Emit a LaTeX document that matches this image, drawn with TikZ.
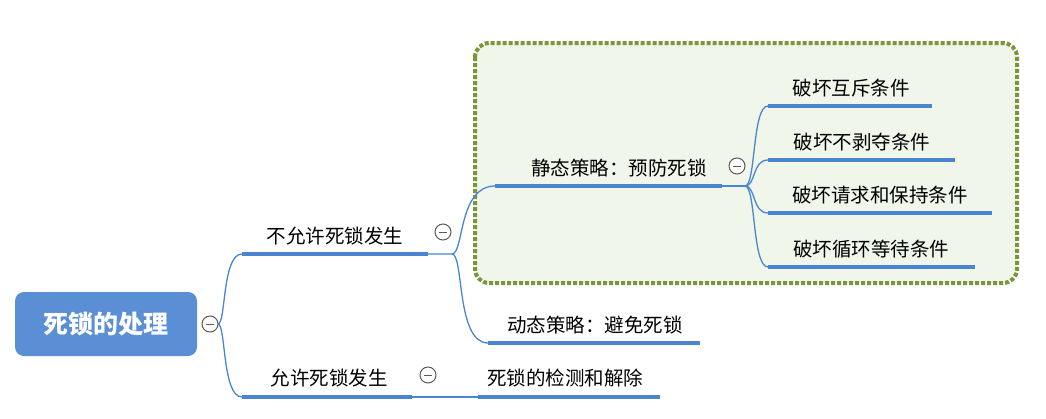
\documentclass[tikz,border=0pt]{standalone}
\usepackage{fontspec}
\setmainfont{Noto Sans CJK SC}
\begin{document}
\begin{tikzpicture}[x=1pt,y=-1pt,
  ul/.style={draw=lb,line width=3.5pt},
  cn/.style={draw=lb,line width=1.3pt},
  txt/.style={font=\fontsize{19.5}{22}\selectfont,inner sep=0pt},
  tog/.style={circle,draw=gray!70!black,fill=white,line width=1pt,minimum size=16pt,inner sep=0pt,
    path picture={\draw[gray!70!black,line width=1pt] ([xshift=-4pt]path picture bounding box.center) -- ([xshift=4pt]path picture bounding box.center);}}]
\definecolor{lb}{HTML}{4A86CF}
\definecolor{rootb}{HTML}{5B8FD5}
\definecolor{gb}{HTML}{F1F6EA}
\definecolor{gd}{HTML}{7A963A}
\useasboundingbox (0,0) rectangle (1046,418);
\draw[gd,fill=gb,line width=4pt,dotted,rounded corners=14pt] (475,43) rectangle (1017,283);
\node[fill=rootb,rounded corners=9pt,minimum width=182pt,minimum height=64pt,text=white,font=\fontsize{25}{27}\selectfont\bfseries] (root) at (106,324) {死锁的处理};
% level 1
\coordinate (r0) at (218,324);
\coordinate (a1) at (242,254); \coordinate (a2) at (428,254);
\coordinate (b1) at (242,397); \coordinate (b2) at (412,397);
\draw[cn] (r0) .. controls (226,324) and (222,254) .. (a1);
\draw[cn] (r0) .. controls (226,324) and (222,397) .. (b1);
\draw[ul] (a1) -- (a2); \draw[ul] (b1) -- (b2);
\node[txt] (n1) at (335,236) {不允许死锁发生};
\node[txt] (n2) at (329,378) {允许死锁发生};
% level 2
\coordinate (s0) at (452,254);
\coordinate (c1) at (495,186); \coordinate (c2) at (722,186);
\coordinate (d1) at (488,343); \coordinate (d2) at (700,343);
\draw[cn] (a2) -- (s0) .. controls (464,254) and (458,186) .. (c1);
\draw[cn] (s0) .. controls (464,254) and (456,343) .. (d1);
\draw[ul] (c1) -- (c2); \draw[ul] (d1) -- (d2);
\node[txt] (n3) at (619,168) {静态策略：预防死锁};
\node[txt] (n4) at (595,325) {动态策略：避免死锁};
\coordinate (e1) at (478,397); \coordinate (e2) at (660,397);
\draw[cn] (b2) -- (e1); \draw[ul] (e1) -- (e2);
\node[txt] (n5) at (565,378) {死锁的检测和解除};
% level 3
\coordinate (t0) at (745,186);
\foreach \y/\xe/\xc/\t [count=\i] in {106/932/851/破坏互斥条件,160/955/862/破坏不剥夺条件,213/992/880/破坏请求和保持条件,267/975/871/破坏循环等待条件}{
  \coordinate (f\i) at (768,\y); \coordinate (g\i) at (\xe,\y);
  \draw[cn] (t0) .. controls (756,186) and (752,\y) .. (f\i);
  \draw[ul] (f\i) -- (g\i);
  \node[txt] (m\i) at (\xc,\y-18) {\t};
}
\draw[cn] (c2) -- (t0);
% toggles
\node[tog] (k0) at (210,324) {};
\node[tog] (k1) at (443,232) {};
\node[tog] (k2) at (428,375) {};
\node[tog] (k3) at (737,166) {};
\end{tikzpicture}
\end{document}
